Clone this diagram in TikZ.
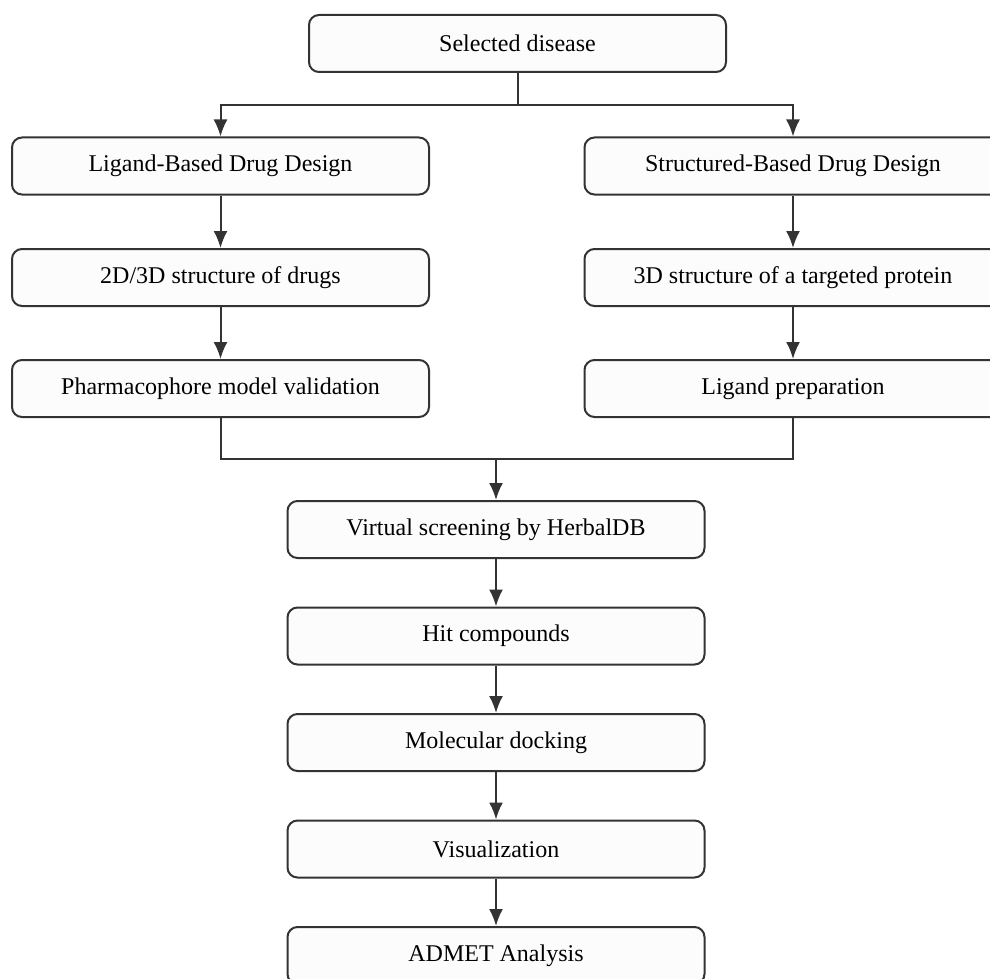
\documentclass[tikz,border=0pt]{standalone}
\usepackage{fontspec}
\setmainfont{Liberation Serif}
\definecolor{linegray}{RGB}{51,51,51}
\definecolor{boxfill}{RGB}{252,252,252}
\usetikzlibrary{arrows.meta}
\tikzstyle{stage}=[draw=linegray,fill=boxfill,line width=1pt,rounded corners=5pt,minimum width=208.5pt,minimum height=28.5pt,inner sep=0pt,font=\fontsize{12}{14}\selectfont]
\tikzstyle{edge} = [draw=linegray,line width=1pt,-]
\tikzstyle{arrow} = [draw=linegray,line width=1pt,-{Latex[length=8.5pt,width=7pt]}]

\begin{document}
\begin{tikzpicture}[x=0.5pt,y=-0.5pt]
                    \path [use as bounding box] (0,0) rectangle (990,979);

                    \node[stage] (0) at (517.5,43.5) {Selected disease};
                    \node[stage] (1) at (220.5,166) {Ligand-Based Drug Design};
                    \node[stage] (2) at (793,166) {Structured-Based Drug Design};
                    \node[stage] (3) at (220.5,277.5) {2D/3D structure of drugs};
                    \node[stage] (4) at (793,277.5) {3D structure of a targeted protein};
                    \node[stage] (5) at (220.5,388.5) {Pharmacophore model validation};
                    \node[stage] (6) at (793,388.5) {Ligand preparation};
                    \node[stage] (7) at (496,529.5) {Virtual screening by HerbalDB};
                    \node[stage] (8) at (496,636) {Hit compounds};
                    \node[stage] (9) at (496,742.5) {Molecular docking};
                    \node[stage] (10) at (496,849) {Visualization};
                    \node[stage] (11) at (496,955.5) {ADMET Analysis};

                    \coordinate (split) at (517.5,105);
                    \coordinate (join) at (496,459);

                    \path[edge] (0) -- (split);
                    \path[arrow] (split) -| (1);
                    \path[arrow] (split) -| (2);
                    \path[arrow] (1) -- (3);
                    \path[arrow] (2) -- (4);
                    \path[arrow] (3) -- (5);
                    \path[arrow] (4) -- (6);

                    \path[edge] (5) |- (join);
                    \path[edge] (6) |- (join);
                    \path[arrow] (join) -- (7);
                    \path[arrow] (7) -- (8);
                    \path[arrow] (8) -- (9);
                    \path[arrow] (9) -- (10);
                    \path[arrow] (10) -- (11);
                \end{tikzpicture}
\end{document}
